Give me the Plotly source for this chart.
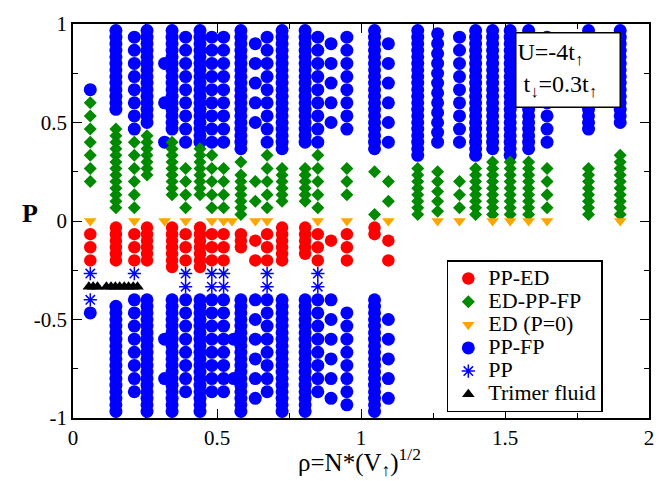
import plotly.graph_objects as go

# Each column record: (rho, denominator, k_top, k_bottom); a column holds the
# polarizations P = k/denominator for every integer k between k_top and k_bottom.

# PP-FP, upper branch (P > 0)
pp_fp_upper = [
    (0.060, 15, 10, 10), (0.149, 30, 29, 17), (0.213, 15, 14, 7), (0.257, 30, 29, 15),
    (0.318, 10, 8, 8), (0.318, 10, 6, 6), (0.318, 10, 4, 4),
    (0.344, 30, 29, 14), (0.391, 15, 14, 6), (0.441, 30, 29, 12), (0.482, 15, 14, 6),
    (0.523, 15, 14, 6), (0.583, 30, 29, 11), (0.633, 10, 9, 5), (0.674, 15, 14, 6),
    (0.726, 30, 29, 11), (0.806, 30, 29, 12), (0.850, 15, 14, 6), (0.896, 10, 9, 5),
    (0.951, 15, 14, 7), (1.047, 30, 29, 11), (1.095, 10, 9, 4), (1.197, 30, 29, 10),
    (1.266, 20, 19, 8), (1.342, 15, 14, 6), (1.398, 30, 29, 10), (1.457, 30, 29, 11),
    (1.518, 30, 29, 10), (1.582, 30, 29, 11), (1.646, 15, 14, 6), (1.790, 30, 29, 14),
    (1.900, 30, 29, 15),
]

# PP-FP, lower branch (P < 0)
pp_fp_lower = [
    (0.060, 15, -7, -7), (0.149, 30, -13, -29), (0.213, 15, -6, -13), (0.257, 30, -12, -29),
    (0.318, 10, -6, -6), (0.318, 10, -8, -8),
    (0.344, 30, -12, -29), (0.391, 15, -6, -13), (0.441, 30, -12, -29), (0.482, 15, -6, -13),
    (0.523, 15, -6, -13), (0.558, 10, -6, -6), (0.558, 10, -8, -8), (0.583, 30, -12, -29),
    (0.633, 10, -4, -9), (0.674, 15, -6, -13), (0.726, 30, -12, -29), (0.806, 30, -12, -29),
    (0.850, 15, -6, -13), (0.896, 10, -4, -9), (0.951, 15, -7, -14), (1.047, 30, -12, -29),
    (1.095, 10, -5, -9),
]

# ED-PP-FP
ed_pp_fp = [
    (0.060, 15, 9, 3), (0.149, 30, 14, 2), (0.213, 15, 6, 1), (0.257, 30, 13, 7),
    (0.344, 30, 12, 4), (0.391, 15, 4, 1), (0.441, 30, 11, 4), (0.482, 15, 5, 1),
    (0.523, 15, 4, 1), (0.583, 30, 9, 9), (0.583, 30, 7, 1), (0.633, 10, 2, 1),
    (0.674, 15, 5, 1), (0.726, 30, 8, 3), (0.806, 30, 8, 3), (0.850, 15, 5, 1),
    (0.951, 15, 4, 2), (1.047, 20, 5, 5), (1.047, 30, 1, 1), (1.095, 10, 2, 1),
    (1.197, 30, 8, 1), (1.266, 20, 5, 1), (1.342, 15, 3, 1), (1.398, 30, 8, 1),
    (1.457, 30, 9, 1), (1.518, 30, 9, 1), (1.582, 30, 9, 1), (1.646, 15, 4, 1),
    (1.790, 30, 8, 1), (1.900, 30, 10, 1),
]

# PP-ED
pp_ed = [
    (0.060, 15, -1, -3), (0.149, 30, -1, -6), (0.213, 15, -1, -3), (0.257, 30, -1, -6),
    (0.344, 30, -1, -7), (0.391, 15, -1, -3), (0.441, 30, -1, -7), (0.482, 15, -1, -3),
    (0.523, 15, -1, -3), (0.583, 30, -2, -4), (0.633, 10, -1, -2), (0.674, 15, -1, -3),
    (0.726, 30, -1, -6), (0.806, 30, -1, -5), (0.850, 15, -1, -3), (0.896, 10, -1, -1),
    (0.951, 15, -1, -3), (1.047, 30, -1, -2), (1.095, 10, -1, -2),
]

# PP
pp = [
    (0.060, 15, -4, -4), (0.060, 15, -6, -6), (0.213, 15, -4, -4), (0.391, 15, -4, -5),
    (0.482, 15, -4, -5), (0.523, 15, -4, -5), (0.674, 15, -4, -5), (0.850, 15, -4, -5),
]

# ED (P=0)
ed_rho = [0.060, 0.213, 0.318, 0.391, 0.482, 0.523, 0.552, 0.633, 0.674, 0.850,
          0.951, 1.095, 1.266, 1.342, 1.457, 1.518, 1.582, 1.646, 1.900]
ed_P = [0.0] * len(ed_rho)

# Trimer fluid
trimer_rho = [0.055, 0.070, 0.085, 0.116, 0.132, 0.147, 0.162, 0.178, 0.193, 0.209, 0.224]
trimer_P = [-1 / 3] * len(trimer_rho)

x_ticks = [0, 0.5, 1, 1.5, 2]
x_ticktext = ["0", "0.5", "1", "1.5", "2"]
y_ticks = [-1, -0.5, 0, 0.5, 1]
y_ticktext = ["-1", "-0.5", "0", "0.5", "1"]


def expand(cols):
    xs, ys = [], []
    for rho, n, k1, k2 in cols:
        step = -1 if k2 < k1 else 1
        for k in range(k1, k2 + step, step):
            xs.append(rho)
            ys.append(k / n)
    return xs, ys


def legend_label(text):
    # legend rows stay compact while the label itself is drawn larger
    return f'<span style="font-size:22px">{text}</span>'


FONT = "Liberation Serif"
BLUE = "#0000ff"
RED = "#ff0000"
GREEN = "#008a00"
ORANGE = "#ffa500"

fig = go.Figure()

bx1, by1 = expand(pp_fp_upper)
bx2, by2 = expand(pp_fp_lower)
fig.add_trace(go.Scatter(x=bx1 + bx2, y=by1 + by2, mode="markers", name=legend_label("PP-FP"),
                         legendrank=4,
                         marker=dict(symbol="circle", size=13, color=BLUE, line=dict(width=0))))

rx, ry = expand(pp_ed)
fig.add_trace(go.Scatter(x=rx, y=ry, mode="markers", name=legend_label("PP-ED"), legendrank=1,
                         marker=dict(symbol="circle", size=12.5, color=RED, line=dict(width=0))))

gx, gy = expand(ed_pp_fp)
fig.add_trace(go.Scatter(x=gx, y=gy, mode="markers", name=legend_label("ED-PP-FP"), legendrank=2,
                         marker=dict(symbol="diamond", size=10, color=GREEN, line=dict(width=0))))

fig.add_trace(go.Scatter(x=ed_rho, y=ed_P, mode="markers", name=legend_label("ED (P=0)"),
                         legendrank=3,
                         marker=dict(symbol="triangle-down", size=11, color=ORANGE, line=dict(width=0))))

sx, sy = expand(pp)
fig.add_trace(go.Scatter(x=sx, y=sy, mode="markers", name=legend_label("PP"), legendrank=5,
                         marker=dict(symbol="asterisk-open", size=11, color=BLUE,
                                     line=dict(width=1.5, color=BLUE))))

fig.add_trace(go.Scatter(x=trimer_rho, y=trimer_P, mode="markers",
                         name=legend_label("Trimer fluid"), legendrank=6,
                         marker=dict(symbol="triangle-up", size=11, color="black", line=dict(width=0))))

axis_common = dict(
    showline=True, linecolor="black", linewidth=1.6, mirror="allticks",
    ticks="inside", ticklen=9, tickwidth=1.2, tickcolor="black",
    showgrid=False, zeroline=False,
    tickfont=dict(family=FONT, size=21, color="black"),
)

fig.update_xaxes(range=[0, 2], tickvals=x_ticks, ticktext=x_ticktext,
                 minor=dict(dtick=0.25, tick0=0, ticks="inside", ticklen=5, tickcolor="black"),
                 **axis_common)
fig.update_yaxes(range=[-1, 1], tickvals=y_ticks, ticktext=y_ticktext,
                 minor=dict(dtick=0.25, tick0=0, ticks="inside", ticklen=5, tickcolor="black"),
                 **axis_common)

# axis titles
fig.add_annotation(
    xref="paper", yref="paper", x=0.498, y=-0.112, xanchor="center", yanchor="middle",
    text="ρ=N*(V<sub>↑</sub>)<sup>1/2</sup>", showarrow=False,
    font=dict(family=FONT, size=25, color="black"),
)
fig.add_annotation(
    xref="paper", yref="paper", x=-0.075, y=0.52, xanchor="center", yanchor="middle",
    text="<b>P</b>", showarrow=False, font=dict(family=FONT, size=26, color="black"),
)

fig.add_annotation(
    xref="paper", yref="paper", x=0.859, y=0.884, xanchor="center", yanchor="middle",
    text="U=-4t<sub>↑</sub><br> t<sub>↓</sub>=0.3t<sub>↑</sub>", align="left", showarrow=False,
    font=dict(family=FONT, size=24, color="black"),
    bordercolor="black", borderwidth=1.5, bgcolor="white", width=101, height=71,
)

fig.update_layout(
    width=667, height=481,
    margin=dict(l=73, r=18, t=15, b=63),
    paper_bgcolor="white", plot_bgcolor="white",
    showlegend=True,
    legend=dict(x=0.649, y=0.40, xanchor="left", yanchor="top",
                bgcolor="white", bordercolor="black", borderwidth=1.5,
                font=dict(family=FONT, size=15.5, color="black"),
                tracegroupgap=0, itemsizing="trace", entrywidth=120, entrywidthmode="pixels"),
)

fig.write_html("out.html")
